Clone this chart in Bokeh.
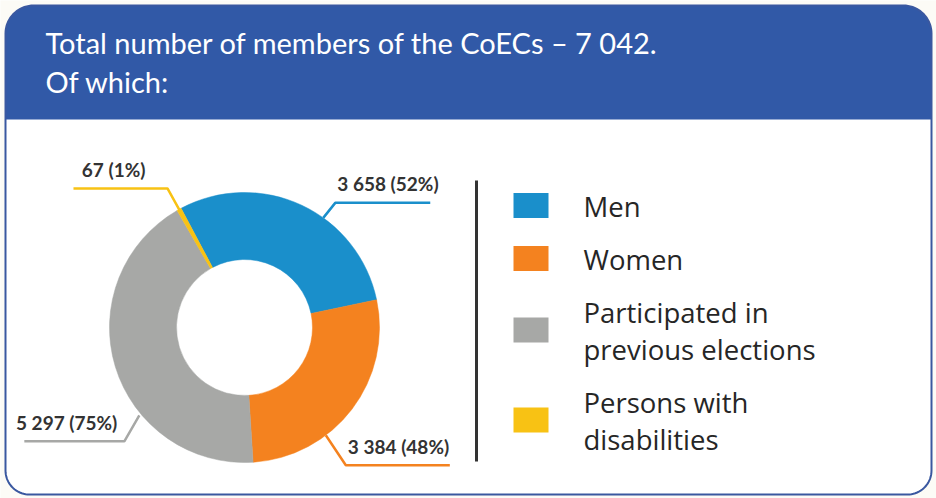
import numpy as np
from bokeh.plotting import figure
from bokeh.models import Range1d
from bokeh.embed import file_html
from bokeh.resources import INLINE
from bokeh.core.properties import value

# ---------------- data ----------------
total_members = 7042
categories = ["Men", "Women", "Participated in previous elections", "Persons with disabilities"]
legend_lines = [["Men"], ["Women"], ["Participated in", "previous elections"], ["Persons with", "disabilities"]]
counts = [3658, 3384, 5297, 67]
percents = [52, 48, 75, 1]
colors = ["#1a8fcb", "#f4821f", "#a7a8a6", "#f8c214"]

# ---------------- layout helpers ----------------
PAGE_W, PAGE_H = 936, 498
TXT_SHIFT = 10  # empirical baseline correction (px)


def Y(py):
    return PAGE_H - py


def fmt(n):
    return f"{n:,}".replace(",", " ")


def rounded_rect(x0, x1, y0, y1, rt, rb, n=20):
    xs, ys = [], []
    corners = [((x0 + rt, y0 + rt), rt, np.pi, 1.5 * np.pi),
               ((x1 - rt, y0 + rt), rt, 1.5 * np.pi, 2 * np.pi),
               ((x1 - rb, y1 - rb), rb, 0, 0.5 * np.pi),
               ((x0 + rb, y1 - rb), rb, 0.5 * np.pi, np.pi)]
    for (cx, cy), r, a0, a1 in corners:
        t = np.linspace(a0, a1, n)
        xs.extend(cx + r * np.cos(t))
        ys.extend(Y(cy + r * np.sin(t)))
    return xs, ys


p = figure(width=PAGE_W, height=PAGE_H, x_range=Range1d(0, PAGE_W), y_range=Range1d(0, PAGE_H),
           output_backend="svg", toolbar_location=None, min_border=0,
           x_axis_location=None, y_axis_location=None)
p.grid.visible = False
p.outline_line_color = None
p.background_fill_color = "#fcfbf6"
p.border_fill_color = "#fcfbf6"

# frame
bx0, bx1, by0, by1 = 5, 931, 5, 494
xs, ys = rounded_rect(bx0, bx1, by0, by1, 28, 24)
p.patch(xs, ys, fill_color="white", line_color=None)
hx, hy = rounded_rect(bx0, bx1, by0, 119, 28, 0)
p.patch(hx, hy, fill_color="#3159a7", line_color=None)
p.patch(xs, ys, fill_color=None, line_color="#3a58a0", line_width=2)

# title
title_font = value("Lato")
p.text(x=[45, 45], y=[Y(52 - TXT_SHIFT), Y(91 - TXT_SHIFT)],
       text=[f"Total number of members of the CoECs \u2013 {fmt(total_members)}.", "Of which:"],
       text_font=title_font, text_font_size="29px", text_color="white",
       text_baseline="alphabetic", text_align="left")

# donut
cx, cy = 244, 327
r_in, r_out = 68, 135
start_deg = 118.0
frac = np.array(counts, dtype=float) / np.sum(counts)
ends = start_deg - np.cumsum(frac) * 360.0
starts = np.concatenate([[start_deg], ends[:-1]])
p.annular_wedge(x=cx, y=Y(cy), inner_radius=r_in, outer_radius=r_out,
                start_angle=np.radians(ends), end_angle=np.radians(starts),
                fill_color=colors, line_color=colors, line_width=0.5)

# leader lines and labels
# (fraction along slice, anchor radius, elbow dx, elbow dy, horizontal length, label side)
leaders = [
    (0.60, r_out, 12, -15, 95, "right"),
    (0.66, r_out, 20, 30, 104, "right"),
    (0.35, r_out + 2, -15, 26, -100, "left"),
    (0.50, r_in + 6, None, None, -94, "left"),
]
label_font = value("Lato")
for i, (f, ra, dx, dy, hl, side) in enumerate(leaders):
    a = np.radians(starts[i] - f * (starts[i] - ends[i]))
    ax_, ay_ = cx + ra * np.cos(a), cy - ra * np.sin(a)
    if dx is None:
        ex, ey = cx + 159 * np.cos(a), cy - 159 * np.sin(a)
    else:
        ex, ey = ax_ + dx, ay_ + dy
    hx2 = ex + hl
    p.line([ax_, ex, hx2], [Y(ay_), Y(ey), Y(ey)], line_color=colors[i], line_width=2.5)
    label = f"{fmt(counts[i])} ({percents[i]}%)"
    ly = Y(ey - 10 - 9)
    if side == "right":
        p.text(x=[ex + 2], y=[ly], text=[label], text_font=label_font,
               text_font_style="bold", text_font_size="19px", text_color="#333333",
               text_baseline="alphabetic", text_align="left")
    else:
        off = 22 if dx is None else 7
        p.text(x=[ex - off], y=[ly], text=[label], text_font=label_font,
               text_font_style="bold", text_font_size="19px", text_color="#333333",
               text_baseline="alphabetic", text_align="right")

# separator
p.line([476, 476], [Y(180), Y(461)], line_color="#333333", line_width=3)

# legend
leg_font = value("Open Sans")
yb = 216
for i, lines in enumerate(legend_lines):
    p.rect(x=[530.5], y=[Y(yb + (len(lines) - 1) * 37 / 2 - 11)], width=35, height=25,
           fill_color=colors[i], line_color=None)
    p.text(x=[583] * len(lines), y=[Y(yb - TXT_SHIFT + k * 37) for k in range(len(lines))],
           text=lines, text_font=leg_font, text_font_size="27.5px", text_color="#262626",
           text_baseline="alphabetic", text_align="left")
    yb += len(lines) * 37 + 16

open("out.html", "w").write(file_html(p, INLINE))
